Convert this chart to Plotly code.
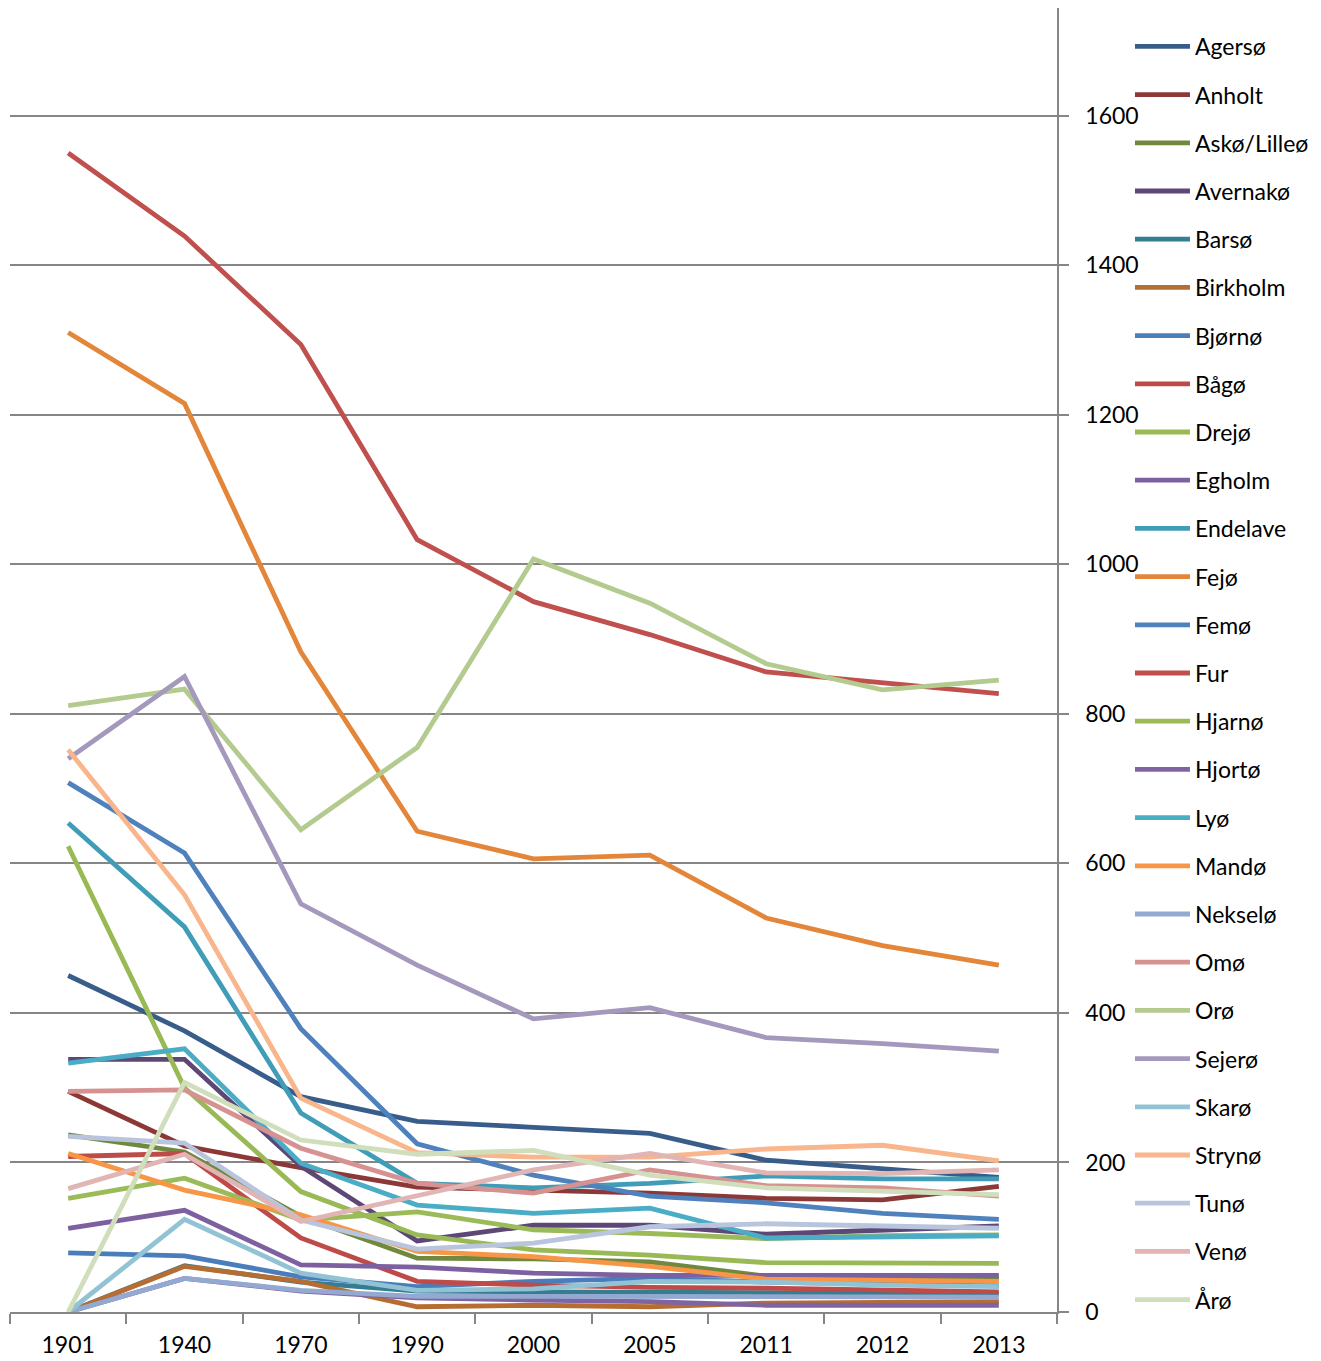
import plotly.graph_objects as go

years = ["1901", "1940", "1970", "1990", "2000", "2005", "2011", "2012", "2013"]

agerso = [450, 376, 288, 255, 247, 239, 203, 191, 180]
anholt = [295, 222, 193, 167, 163, 159, 152, 150, 168]
asko_lilleo = [237, 214, 128, 72, 71, 67, 48, 46, 45]
avernako = [338, 338, 195, 95, 116, 116, 104, 110, 115]
barso = [0, 62, 40, 28, 27, 27, 26, 25, 24]
birkholm = [0, 61, 41, 7, 9, 7, 12, 13, 14]
bjorno = [79, 75, 47, 34, 41, 45, 40, 37, 35]
bago = [208, 212, 99, 41, 36, 33, 32, 30, 27]
drejo = [623, 300, 161, 103, 83, 76, 66, 66, 65]
egholm = [112, 136, 63, 60, 52, 49, 49, 49, 49]
endelave = [654, 515, 266, 172, 166, 172, 182, 178, 178]
fejo = [1310, 1215, 883, 643, 606, 611, 527, 490, 464]
femo = [708, 614, 379, 225, 183, 155, 146, 132, 124]
fur = [1550, 1439, 1294, 1033, 950, 906, 856, 841, 827]
hjarno = [152, 179, 123, 134, 110, 105, 98, 102, 103]
hjorto = [0, 45, 28, 19, 16, 14, 9, 9, 9]
lyo = [333, 352, 199, 143, 132, 139, 99, 101, 102]
mando = [212, 163, 130, 81, 74, 61, 44, 42, 41]
nekselo = [0, 45, 29, 21, 21, 21, 20, 20, 20]
omo = [295, 297, 219, 172, 159, 190, 169, 166, 155]
oro = [811, 833, 645, 755, 1007, 948, 867, 832, 845]
sejero = [740, 850, 546, 464, 392, 407, 367, 359, 349]
skaro = [0, 124, 52, 29, 31, 41, 40, 36, 34]
stryno = [752, 558, 286, 213, 207, 207, 218, 223, 202]
tuno = [235, 226, 123, 84, 92, 114, 118, 115, 112]
veno = [165, 211, 121, 156, 190, 212, 186, 185, 190]
aro = [0, 307, 230, 211, 216, 183, 166, 161, 157]

names = ["Agersø", "Anholt", "Askø/Lilleø", "Avernakø", "Barsø", "Birkholm",
         "Bjørnø", "Bågø", "Drejø", "Egholm", "Endelave", "Fejø", "Femø", "Fur",
         "Hjarnø", "Hjortø", "Lyø", "Mandø", "Nekselø", "Omø", "Orø", "Sejerø",
         "Skarø", "Strynø", "Tunø", "Venø", "Årø"]
values = [agerso, anholt, asko_lilleo, avernako, barso, birkholm, bjorno, bago,
          drejo, egholm, endelave, fejo, femo, fur, hjarno, hjorto, lyo, mando,
          nekselo, omo, oro, sejero, skaro, stryno, tuno, veno, aro]
colors = ["#385D8A", "#8C3836", "#71893F", "#5C4776", "#357D91", "#B66D31",
          "#4A7EBB", "#BE4B48", "#98B954", "#7D60A0", "#3F9DB8", "#E3863A",
          "#4F81BD", "#C0504D", "#9BBB59", "#8064A2", "#4BACC6", "#F79646",
          "#93A9D1", "#D69290", "#B3CB8E", "#A598BD", "#92C3D5", "#F9B58B",
          "#B9C4DD", "#E0B5B4", "#D0DEBB"]

fig = go.Figure()
for i, (n, v, c) in enumerate(zip(names, values, colors)):
    fig.add_trace(go.Scatter(
        x=years, y=v, name=n, mode="lines",
        line=dict(color=c, width=4.8),
        legendgroup="g%02d" % i,
    ))

grid = "#868686"
fig.update_layout(
    width=1321, height=1361,
    margin=dict(l=2, r=272, t=0, b=57),
    plot_bgcolor="white", paper_bgcolor="white",
    font=dict(family="Lato, Open Sans, sans-serif", size=23, color="#000000"),
    showlegend=True,
    legend=dict(
        x=1.0697, xanchor="left", y=0.987, yanchor="top",
        font=dict(size=23, color="#000000"),
        itemwidth=55, tracegroupgap=15.3,
        bgcolor="rgba(0,0,0,0)", borderwidth=0,
        traceorder="grouped",
    ),
    xaxis=dict(
        type="category", range=[-0.5, 8.5],
        showgrid=False, showline=True, linecolor=grid, linewidth=1.5,
        ticks="outside", tickson="boundaries", ticklen=10, tickcolor=grid,
        tickwidth=1.5, zeroline=False, ticklabelstandoff=12,
        tickfont=dict(size=23),
    ),
    yaxis=dict(
        side="right", range=[0, 1744],
        tickvals=[0, 200, 400, 600, 800, 1000, 1200, 1400, 1600],
        showgrid=True, gridcolor=grid, gridwidth=1.5,
        showline=True, linecolor=grid, linewidth=1.5,
        ticks="outside", ticklen=10, tickcolor=grid, tickwidth=1.5,
        zeroline=False, ticklabelstandoff=12,
        tickfont=dict(size=23),
    ),
)

fig.write_html("out.html")
